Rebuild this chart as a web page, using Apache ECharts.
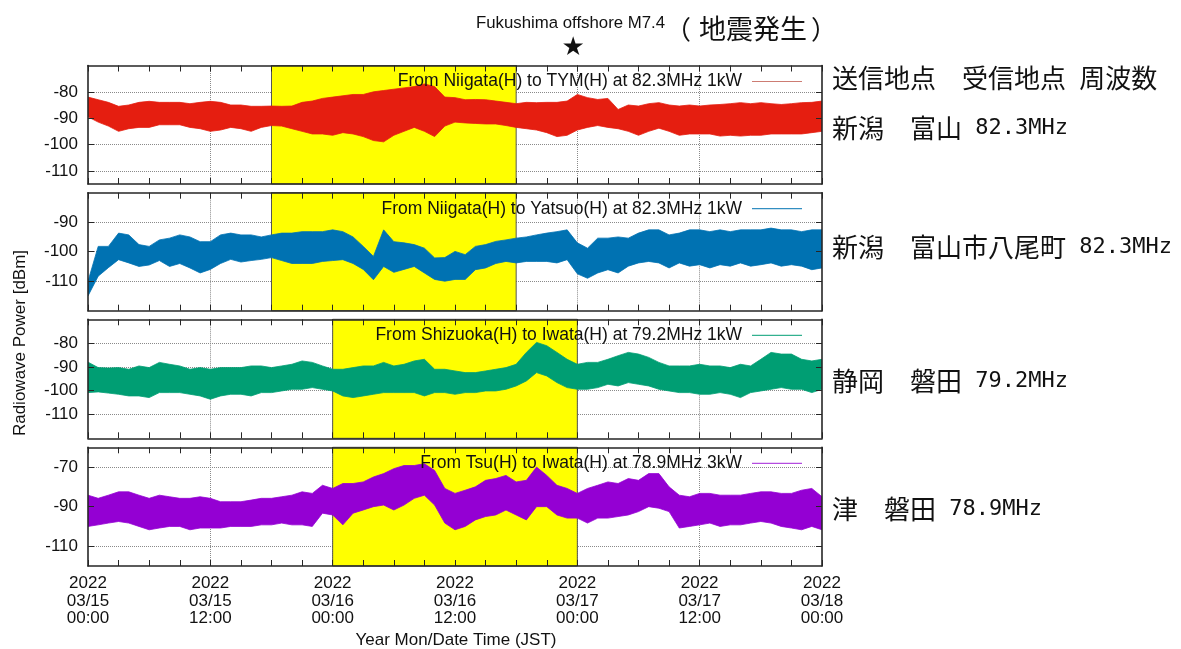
<!DOCTYPE html>
<html><head><meta charset="utf-8">
<script src="https://cdn.jsdelivr.net/npm/echarts@6/dist/echarts.min.js"></script>
<style>html,body{margin:0;padding:0;background:#fff}#c{width:1181px;height:649px}</style>
</head><body><div id="c"></div><script>
// ---- data ----
const hours = Array.from({length: 73}, (_, i) => i); // hours since 2022/03/15 00:00 JST
const tickHours = [0, 12, 24, 36, 48, 60, 72];
const tickLabels = ['2022\n03/15\n00:00','2022\n03/15\n12:00','2022\n03/16\n00:00','2022\n03/16\n12:00','2022\n03/17\n00:00','2022\n03/17\n12:00','2022\n03/18\n00:00'];
const seriesNames = [
  'From Niigata(H) to TYM(H) at 82.3MHz 1kW',
  'From Niigata(H) to Yatsuo(H) at 82.3MHz 1kW',
  'From Shizuoka(H) to Iwata(H) at 79.2MHz 1kW',
  'From Tsu(H) to Iwata(H) at 78.9MHz 3kW'
];
// upper / lower envelopes of the received power (dBm), hourly
const tymUpper = [-82,-83,-84,-85.5,-85,-84,-83.6,-84,-84,-84,
  -84.5,-84,-83.6,-84,-85,-85,-85.5,-85.5,-85.4,-85.5,
  -85.4,-84,-83.5,-82.5,-82,-81.5,-81,-81,-80,-79.5,
  -79,-78.5,-78,-77,-78,-82,-82.2,-83,-82.9,-83,
  -83.5,-84,-84.5,-84,-84.1,-84,-84,-83.5,-81,-82.2,
  -82.9,-82.5,-86.7,-85,-85.4,-84.5,-84.1,-85,-85.4,-85,
  -85.4,-85,-84.8,-84.5,-84.1,-84.5,-84.1,-84.5,-84.8,-84.5,
  -84.1,-84,-83.5];
const tymLower = [-89.5,-91.5,-93,-95,-94,-93.5,-93.5,-92.5,-92.5,-92.5,
  -93.5,-94,-95,-94.5,-93.5,-94,-95,-93.5,-92.8,-93,
  -94,-95,-96,-96,-96.5,-95.5,-96,-97,-98.5,-99,
  -96.5,-95,-93.5,-95,-97,-93,-91.5,-91.8,-92,-92.2,
  -92.2,-92.8,-93.5,-94,-94.5,-95.5,-97,-96.5,-94.5,-93.5,
  -92.8,-93.5,-94,-95,-96.5,-95,-93.8,-95,-96.5,-96,
  -96,-96,-96.8,-96.5,-96.8,-96.5,-96.5,-96,-96,-96,
  -96,-95.5,-95];
const yatsuoUpper = [-110,-98.2,-98.2,-93.7,-94.3,-97.6,-98.2,-96,-95.4,-94.3,
  -95,-96.6,-96.6,-94.3,-93.7,-94.3,-94.3,-95,-94.3,-93.7,
  -93.7,-93.2,-93.2,-93.2,-92.6,-93.2,-95,-98.2,-101.6,-92.6,
  -96.6,-97,-97.6,-98.8,-102.1,-102,-99.9,-101,-98.2,-97.6,
  -96.5,-96,-95.4,-95,-94.3,-93.7,-93.2,-92.6,-97,-98.8,
  -95.4,-95.4,-95,-95.4,-93.7,-92.6,-92.6,-94.3,-93.7,-92.6,
  -92.6,-93.2,-92.6,-93.2,-92.6,-92.6,-92.6,-92,-92.6,-92.6,
  -93.2,-92.6,-92.6];
const yatsuoLower = [-115,-108.3,-105.4,-102.7,-103.8,-105,-104.5,-103,-105,-104,
  -105.5,-107.2,-106,-104,-102.6,-103.5,-103,-102.6,-102,-103,
  -104,-104,-104,-103.3,-103,-102.7,-104,-106,-109.5,-105,
  -107,-106,-105,-107.2,-109.4,-110,-109.4,-109.4,-106.1,-105.5,
  -104,-103.3,-103.8,-103.3,-103.3,-103.3,-103.8,-102.7,-107.5,-109,
  -107.2,-106.1,-107.2,-104.9,-103.8,-103.3,-103.8,-105.5,-103.8,-104.9,
  -104.4,-105.5,-104.4,-104.9,-103.8,-104.9,-104.4,-103.8,-104.9,-104.4,
  -104.9,-106.1,-105.5];
const iwataUpper = [-88,-90.3,-90.5,-90.3,-91,-89.6,-90.3,-88.1,-88.9,-89.6,
  -91,-90.3,-91,-90.3,-90.3,-90.3,-89.6,-89.6,-90.3,-89.6,
  -88.9,-87.5,-88.1,-89.6,-91,-91,-90.3,-89.6,-89.6,-88.1,
  -89.6,-88.9,-87.5,-86.8,-91,-91,-91.7,-92.4,-92.4,-91.7,
  -91,-90.3,-88.9,-83.9,-79.7,-81.1,-83.9,-86.8,-88.9,-88.1,
  -88.1,-86.8,-85.3,-83.9,-84.6,-86,-88.1,-89.6,-89.6,-89.6,
  -88.9,-89.6,-89.6,-90.3,-88.9,-89.6,-86.8,-83.9,-84.6,-84.6,
  -86.8,-87.5,-86.8];
const iwataLower = [-100.8,-100.5,-101,-101.5,-102.2,-102.2,-102.9,-100.8,-100.8,-100.8,
  -101.5,-102.2,-103.6,-102.2,-101.5,-101.5,-102.2,-100.8,-100.8,-100.1,
  -99.4,-99.4,-98.7,-99.4,-100.1,-102.2,-102.9,-102.2,-101.5,-100.8,
  -100.8,-100.8,-100.8,-102.2,-100.8,-100.8,-101.5,-100.8,-100.8,-100.1,
  -100.1,-99.4,-98,-95.9,-92.4,-93.8,-96.6,-98.7,-99.4,-99.4,
  -98.7,-97.3,-98,-96.6,-97.3,-98,-99.4,-100.1,-100.8,-100.8,
  -101.5,-101.5,-100.8,-101.5,-102.9,-100.8,-100.1,-99.4,-98.7,-99.4,
  -99.4,-100.8,-99.4];
const tsuUpper = [-84.2,-85.8,-84.2,-82.5,-82.5,-84.2,-85.8,-84.2,-85,-85.8,
  -85.8,-85,-85.8,-87.5,-87.5,-87.5,-86.7,-85.8,-85.8,-85,
  -84.2,-82.5,-83.3,-79.2,-80.8,-78.3,-78.3,-77.5,-75,-73.3,
  -70.8,-69.2,-69.2,-68.3,-71.7,-80.8,-83.3,-81.7,-80,-76.7,
  -75.8,-74.2,-77.5,-76.7,-70,-74.2,-79.2,-80.8,-83.3,-80.8,
  -79.2,-77.5,-78.3,-75.8,-76.7,-73.3,-73.3,-80,-84.2,-85,
  -83.3,-83.3,-84.2,-84.2,-84.2,-83.3,-82.5,-82.5,-83.3,-83.3,
  -81.7,-80.8,-85];
const tsuLower = [-100,-99.2,-98.3,-97.5,-98.3,-100,-101.7,-100.8,-100,-100,
  -101.7,-100.8,-100.8,-100.8,-100,-100,-100,-99.2,-99.2,-98.3,
  -99.2,-99.2,-100,-93.3,-94.2,-99.2,-93.3,-91.7,-90,-89.2,
  -91.7,-89.2,-85.8,-84.2,-89.2,-98.3,-101.7,-100,-96.7,-95,
  -94.2,-91.7,-94.2,-96.7,-90,-90,-94.2,-95.8,-95.8,-98.3,
  -95.8,-95.8,-95,-94.2,-92.5,-90,-90.8,-92.5,-100.8,-100,
  -99.2,-98.3,-100,-99.2,-99.2,-98.3,-97.5,-98.3,-100,-100.8,
  -101.7,-100,-101.7];
const uppers = [tymUpper, yatsuoUpper, iwataUpper, tsuUpper];
const lowers = [tymLower, yatsuoLower, iwataLower, tsuLower];
const shadeStart = [18, 18, 24, 24];
const shadeEnd = [42, 42, 48, 48];
const yMin = [-115, -120, -120, -120];
const yMax = [-70, -80, -70, -60];
const yTickValues = [[-110,-100,-90,-80], [-110,-100,-90], [-110,-100,-90,-80], [-110,-90,-70]];
const quakeHour = 47.6; // 2022/03/16 23:36 JST

// ---- style ----
const colors = ['#e51e10', '#0072b2', '#009e73', '#9400d3'];
const legendColors = ['rgba(200,110,100,0.9)', 'rgba(0,114,178,0.8)', 'rgba(0,158,115,0.8)', 'rgba(148,0,211,0.7)'];
const tops = [65.5, 192.7, 319.3, 447.3];
const heights = [118.5, 118, 119, 118.7];
const FONT = "'Liberation Sans', Arial, sans-serif";
const CJK = "'Noto Sans CJK JP', sans-serif";
const MONO = "'DejaVu Sans Mono', monospace";

const chart = echarts.init(document.getElementById('c'), null, {renderer: 'canvas'});
const grid = [], xAxis = [], yAxis = [], series = [], legend = [];
const lineCol = '#262626';
for (let i = 0; i < 4; i++) {
  grid.push({left: 88, width: 734, top: tops[i], height: heights[i]});
  const axisLine = {show: true, onZero: false, lineStyle: {color: lineCol, width: 1.6}};
  const tick = {show: true, inside: true, length: 6, lineStyle: {color: lineCol, width: 1}};
  const minor = {show: true, splitNumber: 4, length: 6, lineStyle: {color: lineCol, width: 1}};
  ['bottom', 'top'].forEach(pos => {
    xAxis.push({
      type: 'value', gridIndex: i, position: pos, min: 0, max: 72, interval: 12, z: 3,
      axisLine, axisTick: tick, minorTick: minor,
      splitLine: {show: false}, minorSplitLine: {show: false},
      axisLabel: (pos === 'bottom' && i === 3) ? {
        show: true, fontSize: 17, lineHeight: 17.5, color: '#111', fontFamily: FONT, margin: 9,
        formatter: v => { const k = tickHours.indexOf(v); return k >= 0 ? tickLabels[k] : ''; }
      } : {show: false}
    });
  });
  ['left', 'right'].forEach(pos => {
    yAxis.push({
      type: 'value', gridIndex: i, position: pos, min: yMin[i], max: yMax[i], z: 3,
      axisLine, axisTick: Object.assign({}, tick, {customValues: yTickValues[i]}),
      splitLine: {show: false},
      axisLabel: pos === 'left' ? {show: true, customValues: yTickValues[i], fontSize: 17, color: '#111', fontFamily: FONT, margin: 10} : {show: false}
    });
  });
  const lo = lowers[i], up = uppers[i], col = colors[i];
  // carrier series: shaded period + dotted grid (drawn under the data)
  series.push({
    name: 'frame' + i, type: 'line', xAxisIndex: 2 * i, yAxisIndex: 2 * i,
    data: hours.map((h, k) => [h, lo[k]]), symbol: 'none', lineStyle: {opacity: 0},
    silent: true, z: 1, emphasis: {disabled: true},
    markArea: {
      silent: true, z: 1,
      itemStyle: {color: '#ffff00', borderColor: '#555', borderWidth: 1},
      data: [[{xAxis: shadeStart[i]}, {xAxis: shadeEnd[i]}]]
    },
    markLine: {
      silent: true, z: 0.9, symbol: 'none', label: {show: false},
      lineStyle: {type: 'dotted', color: '#8a8a8a', width: 1},
      emphasis: {disabled: true},
      data: yTickValues[i].map(v => ({yAxis: v})).concat([12, 24, 36, 48, 60].map(v => ({xAxis: v})))
    }
  });
  // noisy signal drawn as a filled band between its upper and lower envelopes
  series.push({
    name: seriesNames[i], type: 'custom', xAxisIndex: 2 * i, yAxisIndex: 2 * i,
    data: hours.map((h, k) => [h, up[k], lo[k]]), encode: {x: 0, y: [1, 2]},
    z: 3, silent: true, clip: true, itemStyle: {color: col},
    renderItem: (params, api) => {
      if (params.dataIndex !== 0) return null;
      const pts = [];
      for (let k = 0; k < hours.length; k++) pts.push(api.coord([hours[k], up[k]]));
      for (let k = hours.length - 1; k >= 0; k--) pts.push(api.coord([hours[k], lo[k]]));
      return {type: 'polygon', shape: {points: pts}, style: {fill: col, stroke: col, lineWidth: 0.8}};
    }
  });
  legend.push({
    data: [{name: seriesNames[i], itemStyle: {color: legendColors[i]}}],
    right: 379, top: tops[i] + 7, align: 'right', icon: 'rect', itemWidth: 50, itemHeight: 1.2,
    padding: 0, selectedMode: false,
    textStyle: {fontSize: 17.5, color: '#111', fontFamily: FONT, lineHeight: 18, padding: [0, 5, 0, 0]}
  });
}

function txt(x, y, text, font, align) {
  align = align || 'left';
  return {type: 'text', x, y, silent: true, z: 10,
    style: {text, font, fill: '#111', align, verticalAlign: 'middle', textAlign: align, textVerticalAlign: 'middle'}};
}
function richTxt(x, y, text) {
  return {type: 'text', x, y, silent: true, z: 10,
    style: {text, fill: '#111', align: 'left', verticalAlign: 'middle', textAlign: 'left', textVerticalAlign: 'middle',
      rich: {c: {fontSize: 26, fontFamily: CJK, fill: '#111'}, m: {fontSize: 22, fontFamily: MONO, fill: '#111'}}}};
}
const yTitle = txt(20, 343, 'Radiowave Power [dBm]', '17px ' + FONT, 'center');
yTitle.rotation = Math.PI / 2;

const graphic = [
  yTitle,
  txt(456, 640, 'Year Mon/Date Time (JST)', '17px ' + FONT, 'center'),
  txt(476, 23, 'Fukushima offshore M7.4', '16.8px ' + FONT),
  txt(665, 29, '（', '26px ' + CJK),
  txt(699, 29, '地震発生', '27px ' + CJK),
  txt(811, 29, '）', '26px ' + CJK),
  richTxt(832, 78, '{c|送信地点　受信地点}{m| }{c|周波数}'),
  richTxt(832, 128, '{c|新潟　富山}{m| 82.3MHz}'),
  richTxt(832, 247, '{c|新潟　富山市八尾町}{m| 82.3MHz}'),
  richTxt(832, 381, '{c|静岡　磐田}{m| 79.2MHz}'),
  richTxt(832, 509, '{c|津　磐田}{m| 78.9MHz}')
];

chart.setOption({
  animation: false, backgroundColor: '#fff',
  grid, xAxis, yAxis, series, legend, graphic
});
const starX = chart.convertToPixel({xAxisIndex: 1}, quakeHour);
graphic.push(txt(starX, 48, '★', "26px 'DejaVu Sans', sans-serif", 'center'));
chart.setOption({graphic});
</script></body></html>
